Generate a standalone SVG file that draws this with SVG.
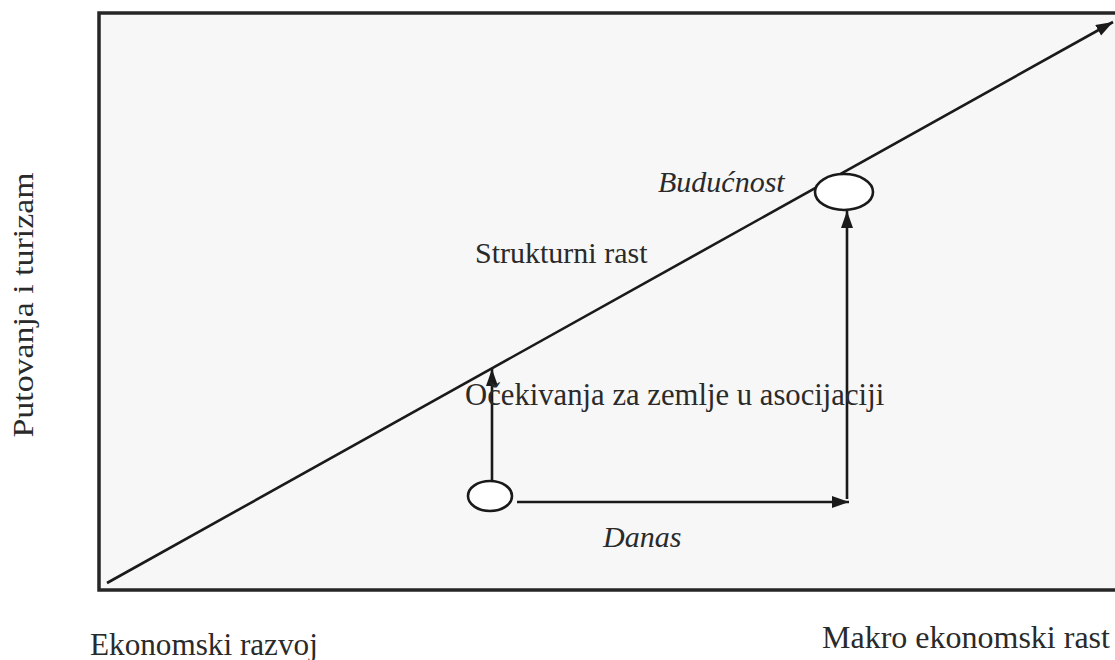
<svg xmlns="http://www.w3.org/2000/svg" width="1115" height="660" viewBox="0 0 1115 660">
  <style>
    .t { font-size: 30px; fill: #2a2a2a; }
    .i { font-style: italic; }
    .ln { stroke: #1a1a1a; stroke-width: 2.6; fill: none; }
    .node { fill: #ffffff; stroke: #1a1a1a; stroke-width: 2.6; }
  </style>
  <defs>
    <marker id="ah" markerUnits="userSpaceOnUse" markerWidth="20" markerHeight="14" refX="17" refY="6" orient="auto">
      <path d="M0,0 L17,6 L0,12 Z" fill="#1a1a1a"/>
    </marker>
  </defs>
  <rect width="1115" height="660" fill="#ffffff"/>
  <g id="frame">
    <rect x="99" y="13" width="1030" height="577" fill="#f7f7f7" stroke="#262626" stroke-width="3.5"/>
  </g>
  <g id="connectors">
    <line class="ln" x1="107" y1="583" x2="1113" y2="22" marker-end="url(#ah)"/>
    <line class="ln" x1="492" y1="481" x2="492" y2="369" marker-end="url(#ah)"/>
    <line class="ln" x1="517" y1="502" x2="849" y2="502" marker-end="url(#ah)"/>
    <line class="ln" x1="847" y1="499" x2="847" y2="211" marker-end="url(#ah)"/>
  </g>
  <g font-family="Liberation Serif, Times New Roman, DejaVu Serif, serif">
    <g id="node-danas">
      <ellipse class="node" cx="490" cy="496" rx="22" ry="15"/>
      <text class="t i" x="603" y="547">Danas</text>
    </g>
    <g id="node-buducnost">
      <ellipse class="node" cx="844" cy="192" rx="29" ry="18"/>
      <text class="t i" x="658" y="192">Budućnost</text>
    </g>
    <g id="labels">
      <text class="t" x="475" y="263">Strukturni rast</text>
      <text class="t" x="465" y="405" style="font-size:30.7px">Očekivanja za zemlje u asocijaciji</text>
      <text class="t" x="90" y="655" style="font-size:31.2px">Ekonomski razvoj</text>
      <text class="t" x="822" y="648" style="font-size:32px">Makro ekonomski rast</text>
      <text class="t" x="0" y="0" text-anchor="middle" transform="translate(33,305) rotate(-90)" textLength="265" lengthAdjust="spacingAndGlyphs">Putovanja i turizam</text>
    </g>
  </g>
</svg>
